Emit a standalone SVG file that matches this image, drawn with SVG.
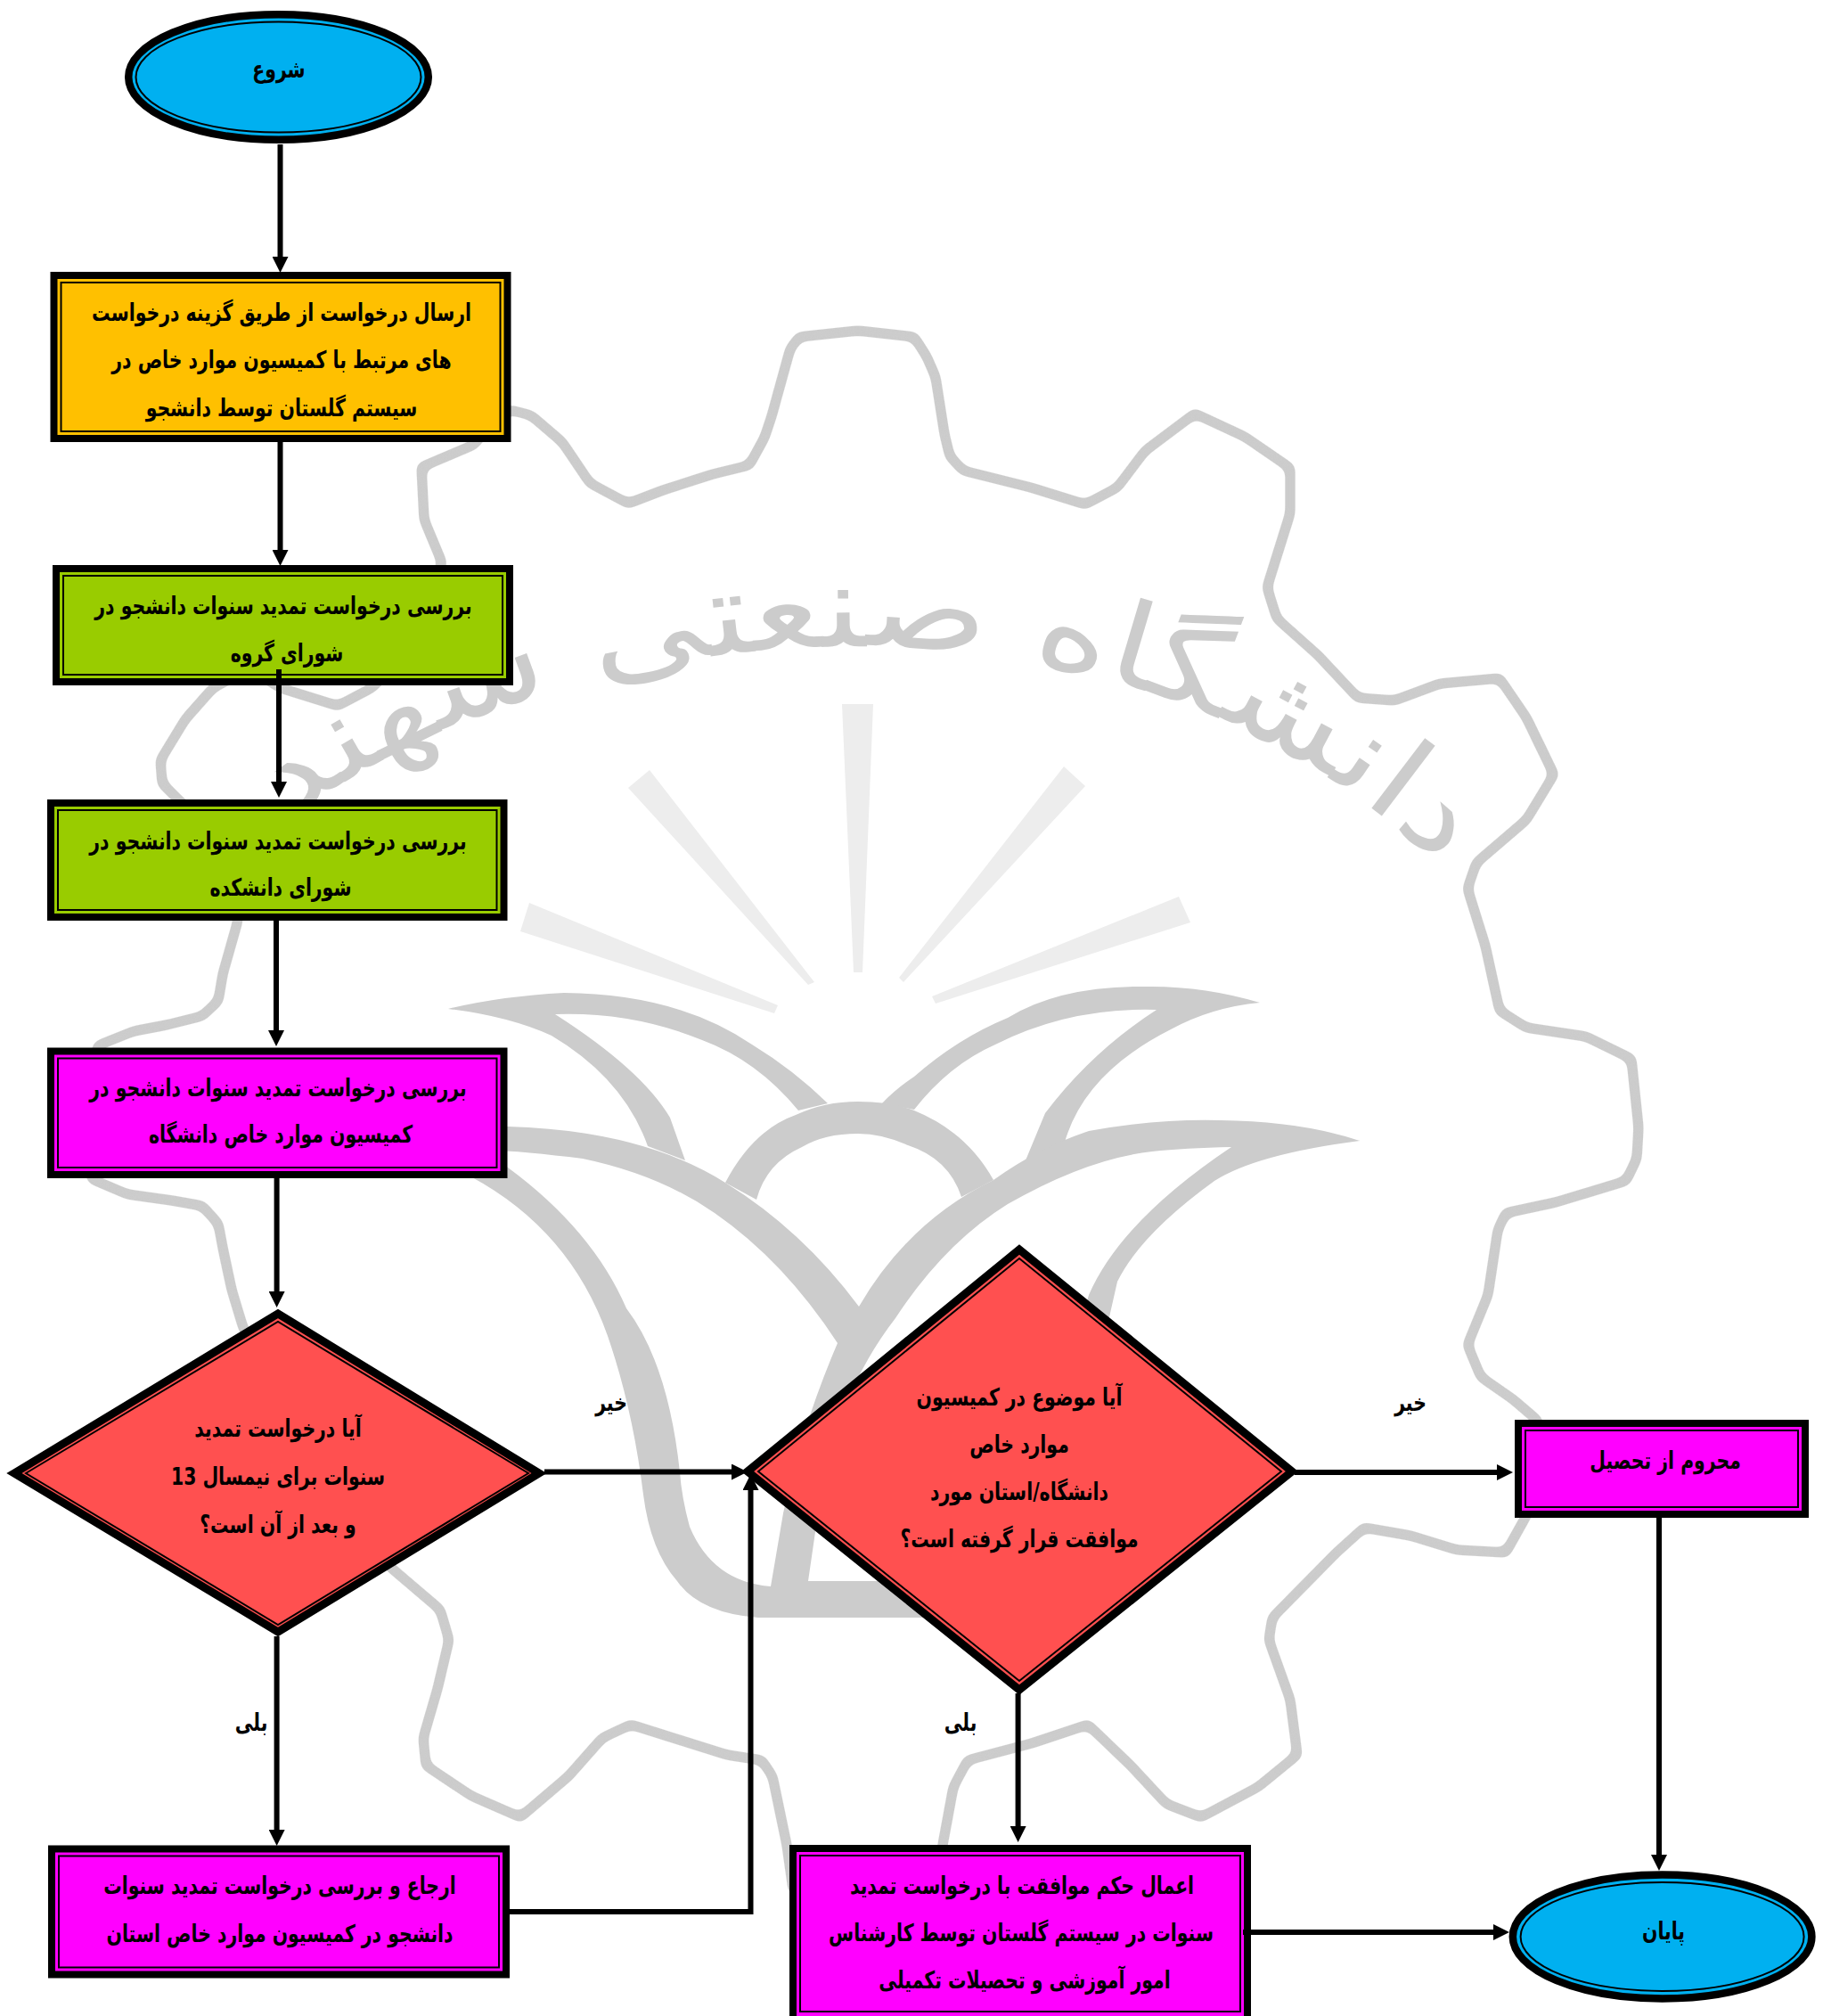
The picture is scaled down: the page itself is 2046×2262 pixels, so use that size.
<svg xmlns="http://www.w3.org/2000/svg" width="2046" height="2262" viewBox="0 0 2046 2262">
<style>
text{font-family:"DejaVu Sans Condensed","DejaVu Sans",sans-serif;direction:rtl;text-anchor:middle;fill:#000}
.t{font-size:27px;font-weight:700}
.o{stroke:#000;stroke-width:8}
.d{stroke-width:9}
.e{stroke-width:8.5}
.i{fill:none;stroke:#000;stroke-width:2}
.blue{fill:#00B0F0}.or{fill:#FFC000}.gr{fill:#99CC00}.ma{fill:#FF00FF}.re{fill:#FF5050}
.c{fill:none;stroke:#000;stroke-width:6}
.ray{fill:#ededed}
</style>
<defs><marker id="a" markerUnits="userSpaceOnUse" markerWidth="18" markerHeight="18" refX="0" refY="9" orient="auto"><path d="M0 0L18 9L0 18z" fill="#000"/></marker>
<filter id="s4" x="-5%" y="-5%" width="110%" height="110%" color-interpolation-filters="sRGB"><feGaussianBlur stdDeviation="4"/><feComponentTransfer><feFuncA type="linear" slope="10" intercept="-4.3"/></feComponentTransfer></filter>
</defs>
<rect width="2046" height="2262" fill="#fff"/>
<g id="watermark">
<path filter="url(#s4)" fill="none" stroke="#ccc" stroke-width="11" stroke-linejoin="round" d="M887 391L897 378L963 371L1026 378L1040 400L1050 423L1060 487L1066 512L1081 528L1157 547L1218 566L1254 547L1285 506L1341 464L1397 490L1448 525L1448 576L1422 659L1433 694L1479 735L1524 783L1565 786L1616 767L1683 761L1713 805L1744 869L1713 920L1657 968L1647 997L1667 1061L1683 1134L1713 1153L1780 1163L1831 1188L1839 1265L1837 1300L1825 1325L1746 1349L1690 1361L1681 1380L1670 1453L1647 1509L1662 1545L1698 1570L1726 1594L1726 1650L1714 1699L1690 1742L1635 1739L1583 1723L1531 1714L1500 1742L1428 1815L1424 1840L1448 1907L1456 1969L1412 2005L1348 2039L1309 2024L1269 1981L1221 1935L1158 1956L1086 1975L1070 2005L1058 2070L1050 2120L890 2120L883 2070L867 1993L855 1975L816 1969L708 1935L676 1950L638 1993L584 2039L529 2015L478 1981L475 1950L491 1895L504 1840L494 1806L440 1760L400 1720L273 1490L260 1447L250 1400L245 1373L227 1353L193 1347L143 1340L103 1323L90 1250L110 1173L150 1157L187 1150L227 1140L245 1123L250 1093L267 1033L260 950L200 897L182 879L180 853L208 807L239 772L280 750L315 772L379 792L417 772L470 720L496 631L476 583L473 524L532 499L555 470L573 460L596 466L631 496L662 542L705 565L744 550L800 532L841 522L858 491L866 467L887 391Z"/>
<path class="ray" d="M945 790L980 790L968 1091L958 1091Z"/>
<path class="ray" d="M729 864L705 884L907 1105L914 1102Z"/>
<path class="ray" d="M1194 860L1218 882L1014 1102L1009 1097Z"/>
<path class="ray" d="M594 1013L584 1045L869 1137L873 1128Z"/>
<path class="ray" d="M1323 1006L1336 1035L1050 1126L1046 1118Z"/>
<g fill="#ccc">
<path d="M503 1132Q560 1118 633 1114Q760 1115 844 1172Q890 1200 929 1238L896 1246Q850 1190 788 1167Q710 1135 623 1138Q720 1200 752 1254L769 1302L727 1286Q700 1210 619 1162Q570 1140 503 1132Z"/>
<path d="M1414 1125Q1350 1106 1286 1107Q1190 1106 1131 1142Q1075 1165 1026 1208Q1005 1222 990 1238L1026 1245Q1065 1195 1117 1172Q1200 1130 1298 1133Q1225 1180 1173 1249L1151 1302L1194 1285Q1215 1205 1314 1155Q1360 1130 1414 1125Z"/>
<path d="M814 1327Q845 1268 893 1251Q925 1236 963 1236Q1000 1236 1026 1246Q1085 1270 1115 1324L1079 1343Q1065 1300 1019 1285Q990 1272 963 1272Q925 1272 900 1287Q860 1305 849 1346Z"/>
<path fill-rule="evenodd" d="M400 1280Q480 1262 570 1264Q720 1268 814 1327Q900 1380 964 1466Q1020 1370 1115 1324Q1165 1288 1222 1269Q1300 1255 1370 1257Q1460 1258 1526 1280Q1410 1295 1363 1325Q1280 1385 1254 1438L1240 1500L1200 1700L1100 1815L851 1815Q785 1810 760 1774Q730 1740 722 1677Q710 1580 682 1499Q640 1380 528 1320Q470 1295 400 1280Z M544 1290Q590 1292 654 1300Q740 1318 802 1361Q880 1415 940 1507Q900 1600 879 1698L865 1780Q800 1775 774 1713Q765 1680 763 1652Q750 1530 703 1468Q665 1380 570 1310Z M1382 1287Q1330 1288 1293 1292Q1220 1300 1131 1351Q1060 1395 1005 1479Q950 1550 925 1650L907 1774L1100 1774L1180 1600L1222 1453Q1258 1370 1382 1287Z"/>
</g>
<path id="arc" fill="none" d="M320 925C600 700 1250 595 1640 995"/>
<text style="fill:#ccc;text-anchor:start;direction:ltr;font-family:'DejaVu Sans',sans-serif;font-size:130px"><textPath href="#arc" textLength="1400" lengthAdjust="spacingAndGlyphs" startOffset="0">دانشگاه صنعتی سهند</textPath></text>
</g>
<g id="start"><ellipse class="o e blue" cx="312.5" cy="86.5" rx="168.3" ry="70.3"/><ellipse class="i" cx="312.5" cy="86.5" rx="160" ry="62"/><text class="t" transform="translate(313 87) scale(.84 1)">شروع</text></g>
<g id="n1"><rect class="o or" x="60.5" y="309" width="509" height="183"/><rect class="i" x="68.5" y="317" width="493" height="167"/><text class="t" transform="translate(316 360) scale(.84 1)">ارسال درخواست از طریق گزینه درخواست</text><text class="t" transform="translate(316 413) scale(.84 1)">های مرتبط با کمیسیون موارد خاص در</text><text class="t" transform="translate(316 467) scale(.84 1)">سیستم گلستان توسط دانشجو</text></g>
<g id="n2"><rect class="o gr" x="63" y="638" width="509" height="127"/><rect class="i" x="71" y="646" width="493" height="111"/><text class="t" transform="translate(318 689) scale(.84 1)">بررسی درخواست تمدید سنوات دانشجو در</text><text class="t" transform="translate(322 742) scale(.84 1)">شورای گروه</text></g>
<g id="n3"><rect class="o gr" x="57" y="901" width="508.5" height="128"/><rect class="i" x="65" y="909" width="492.5" height="112"/><text class="t" transform="translate(312 953) scale(.84 1)">بررسی درخواست تمدید سنوات دانشجو در</text><text class="t" transform="translate(315 1005) scale(.84 1)">شورای دانشکده</text></g>
<g id="n4"><rect class="o ma" x="57" y="1179.5" width="508.5" height="138.5"/><rect class="i" x="65" y="1187.5" width="492.5" height="122.5"/><text class="t" transform="translate(312 1230) scale(.84 1)">بررسی درخواست تمدید سنوات دانشجو در</text><text class="t" transform="translate(315 1282) scale(.84 1)">کمیسیون موارد خاص دانشگاه</text></g>
<g id="d1"><path class="o d re" d="M16 1653L312 1474L605 1653L312 1831Z"/><path class="i" d="M29 1653L312 1483L593 1653L312 1823Z"/><text class="t" transform="translate(312 1612) scale(.84 1)">آیا درخواست تمدید</text><text class="t" transform="translate(312 1666) scale(.84 1)">سنوات برای نیمسال 13</text><text class="t" transform="translate(312 1720) scale(.84 1)">و بعد از آن است؟</text></g>
<g id="d2"><path class="o d re" d="M839 1651L1144 1402L1450 1651L1144 1896Z"/><path class="i" d="M851 1651L1144 1412L1438 1651L1144 1886Z"/><text class="t" transform="translate(1144 1577) scale(.84 1)">آیا موضوع در کمیسیون</text><text class="t" transform="translate(1144 1630) scale(.84 1)">موارد خاص</text><text class="t" transform="translate(1144 1683) scale(.84 1)">دانشگاه/استان مورد</text><text class="t" transform="translate(1144 1736) scale(.84 1)">موافقت قرار گرفته است؟</text></g>
<g id="n5"><rect class="o ma" x="58" y="2074.5" width="510" height="141"/><rect class="i" x="66" y="2082.5" width="494" height="125"/><text class="t" transform="translate(314 2125) scale(.84 1)">ارجاع و بررسی درخواست تمدید سنوات</text><text class="t" transform="translate(314 2179) scale(.84 1)">دانشجو در کمیسیون موارد خاص استان</text></g>
<g id="n6"><rect class="o ma" x="1704" y="1597" width="322" height="102"/><rect class="i" x="1712" y="1605" width="306" height="86"/><text class="t" transform="translate(1869 1648) scale(.84 1)">محروم از تحصیل</text></g>
<g id="n7"><rect class="o ma" x="890" y="2074" width="510" height="194"/><rect class="i" x="898" y="2082" width="494" height="175"/><text class="t" transform="translate(1147 2125) scale(.84 1)">اعمال حکم موافقت با درخواست تمدید</text><text class="t" transform="translate(1146 2178) scale(.84 1)">سنوات در سیستم گلستان توسط کارشناس</text><text class="t" transform="translate(1150 2231) scale(.84 1)">امور آموزشی و تحصیلات تکمیلی</text></g>
<g id="end"><ellipse class="o e blue" cx="1865.6" cy="2173" rx="167.8" ry="69.5"/><ellipse class="i" cx="1865.6" cy="2173" rx="159" ry="61"/><text class="t" transform="translate(1867 2176) scale(.84 1)">پایان</text></g>
<g id="connectors">
<path class="c" marker-end="url(#a)" d="M314.5 162V288"/>
<path class="c" marker-end="url(#a)" d="M314.5 496V617"/>
<path class="c" marker-end="url(#a)" d="M313 751V877"/>
<path class="c" marker-end="url(#a)" d="M310 1033V1156"/>
<path class="c" marker-end="url(#a)" d="M310.6 1322V1449"/>
<path class="c" marker-end="url(#a)" d="M611 1651.5H821"/>
<path class="c" marker-end="url(#a)" d="M310.6 1836V2053"/>
<path class="c" marker-end="url(#a)" d="M572 2145H842.5V1672"/>
<path class="c" marker-end="url(#a)" d="M1453 1652H1680"/>
<path class="c" marker-end="url(#a)" d="M1862 1703V2081"/>
<path class="c" marker-end="url(#a)" d="M1142.6 1900V2049"/>
<path class="c" marker-end="url(#a)" d="M1395 2168H1676"/>
</g>
<g id="labels"><text class="t" transform="translate(686 1583) scale(.84 1)">خیر</text><text class="t" transform="translate(282 1942) scale(.84 1)">بلی</text><text class="t" transform="translate(1583 1583) scale(.84 1)">خیر</text><text class="t" transform="translate(1078 1942) scale(.84 1)">بلی</text></g>
</svg>
